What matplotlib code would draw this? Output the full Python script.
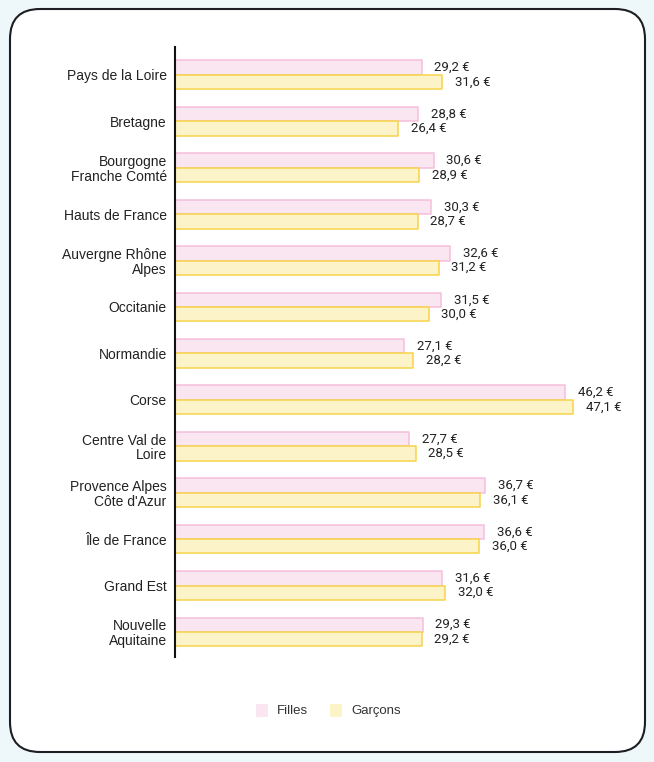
import matplotlib.pyplot as plt
from matplotlib.patches import FancyBboxPatch, Rectangle
import numpy as np

regions = ["Pays de la Loire", "Bretagne", "Bourgogne\nFranche Comté", "Hauts de France",
           "Auvergne Rhône\nAlpes", "Occitanie", "Normandie", "Corse",
           "Centre Val de\nLoire", "Provence Alpes\nCôte d'Azur", "Île de France",
           "Grand Est", "Nouvelle\nAquitaine"]
filles = [29.2, 28.8, 30.6, 30.3, 32.6, 31.5, 27.1, 46.2, 27.7, 36.7, 36.6, 31.6, 29.3]
garcons = [31.6, 26.4, 28.9, 28.7, 31.2, 30.0, 28.2, 47.1, 28.5, 36.1, 36.0, 32.0, 29.2]

W, H = 654, 762
fig = plt.figure(figsize=(W / 100, H / 100), dpi=100)
fig.patch.set_facecolor("#eef8fa")

# card background
bg = fig.add_axes([0, 0, 1, 1])
bg.set_xlim(0, W)
bg.set_ylim(H, 0)
bg.axis("off")
card = FancyBboxPatch((10 + 30, 9 + 30), 635 - 60, 743 - 60,
                      boxstyle="round,pad=30", facecolor="white",
                      edgecolor="#1d1d24", linewidth=1.5)
bg.add_patch(card)

# legend drawn in pixel coords of background
bg.add_patch(Rectangle((256, 704), 12, 13, facecolor="#f9e6f1", edgecolor="none"))
bg.text(277, 711, "Filles", fontsize=9.5, family="Liberation Sans", color="#333333", va="center")
bg.add_patch(Rectangle((330, 704), 12, 13, facecolor="#fdf3c8", edgecolor="none"))
bg.text(351, 711, "Garçons", fontsize=9.5, family="Liberation Sans", color="#333333", va="center")

# chart axes: x from 175 px (0) with 8.45 px per unit
x0, x1 = 175, 175 + 50 * 8.45
y_top, y_bot = 47, 657
ax = fig.add_axes([x0 / W, 1 - y_bot / H, (x1 - x0) / W, (y_bot - y_top) / H])
ax.patch.set_alpha(0)

n = len(regions)
y = np.arange(n)
h = 0.31
ax.barh(y - h / 2, filles, height=h, color="#f9e6f1", edgecolor="#f6bedc",
        linewidth=1.1, joinstyle="round")
ax.barh(y + h / 2, garcons, height=h, color="#fdf3c8", edgecolor="#f7d34a",
        linewidth=1.1, joinstyle="round")

for i in range(n):
    ax.text(filles[i] + 1.5, y[i] - h / 2, f"{filles[i]:.1f} €".replace(".", ","),
            fontsize=9.5, family="Roboto", color="#222222", va="center")
    ax.text(garcons[i] + 1.5, y[i] + h / 2, f"{garcons[i]:.1f} €".replace(".", ","),
            fontsize=9.5, family="Roboto", color="#222222", va="center")

ax.set_xlim(0, 50)
ax.set_ylim(12.54, -0.6)
ax.set_yticks(y)
ax.set_yticklabels(regions, fontsize=10, family="Liberation Sans", color="#222222",
                   linespacing=1.05)
ax.tick_params(axis="y", length=0, pad=6)
ax.set_xticks([])
for s in ["top", "right", "bottom"]:
    ax.spines[s].set_visible(False)
ax.spines["left"].set_linewidth(1.5)
ax.spines["left"].set_color("#111111")

fig.savefig("out.png", dpi=100)
